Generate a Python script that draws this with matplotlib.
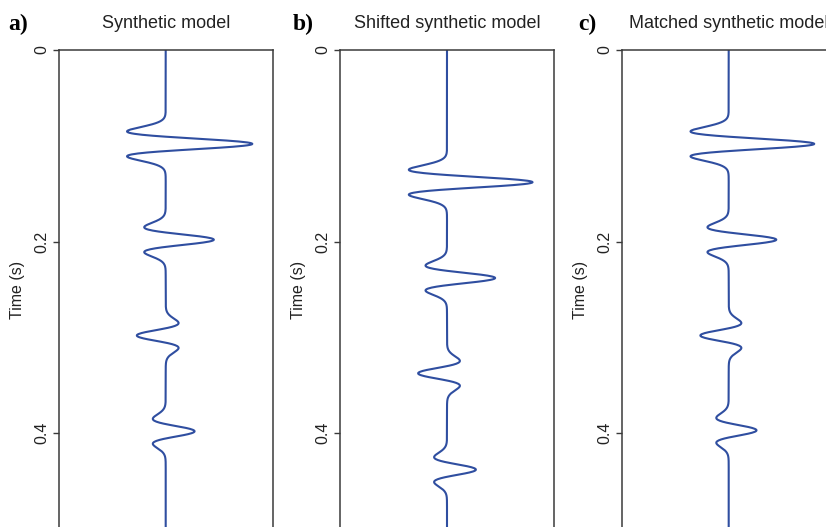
import numpy as np
import matplotlib
matplotlib.use("Agg")
import matplotlib.pyplot as plt

plt.rcParams["font.family"] = ["Liberation Sans", "DejaVu Sans"]

# reflector arrival times (s) and amplitudes for each trace
times_a = [0.098, 0.198, 0.298, 0.398]
amps_a = [0.81, 0.45, -0.27, 0.27]

times_b = [0.138, 0.238, 0.3375, 0.438]
amps_b = [0.80, 0.45, -0.27, 0.27]

times_c = [0.098, 0.198, 0.298, 0.397]
amps_c = [0.80, 0.445, -0.265, 0.26]

titles = ["Synthetic model", "Shifted synthetic model", "Matched synthetic model"]
letters = ["a)", "b)", "c)"]
yticks = [0, 0.2, 0.4]
ytick_labels = ["0", "0.2", "0.4"]

freq = 30.0  # Ricker peak frequency (Hz)
dt = 0.0005
t = np.arange(0, 0.55, dt)


def ricker_trace(times, amps):
    trace = np.zeros_like(t)
    for t0, a in zip(times, amps):
        arg = (np.pi * freq * (t - t0)) ** 2
        trace += a * (1 - 2 * arg) * np.exp(-arg)
    return trace


W, H = 826, 527
fig = plt.figure(figsize=(W / 100, H / 100), dpi=100)

lefts = [58.7, 340.0, 621.7]
letter_x = [8, 293, 578]
ax_w = 214.0
top_px, bot_px = 50.0, 529.0

traces = [(times_a, amps_a), (times_b, amps_b), (times_c, amps_c)]
line_color = "#2f4ea0"
spine_color = "#3a3a3a"

for i, (times, amps) in enumerate(traces):
    ax = fig.add_axes([lefts[i] / W, (H - bot_px) / H, ax_w / W, (bot_px - top_px) / H])
    ax.plot(ricker_trace(times, amps), t, color=line_color, lw=1.5)
    ax.set_xlim(-1, 1)
    ax.set_ylim(0.5, 0)
    ax.set_xticks([])
    ax.set_yticks(yticks)
    ax.set_yticklabels(ytick_labels, rotation=90, va="center", fontsize=11.5, color="#222222")
    ax.tick_params(axis="y", length=4, width=1, color=spine_color, pad=3)
    for s in ax.spines.values():
        s.set_color(spine_color)
        s.set_linewidth(1.1)
    ax.spines["bottom"].set_visible(False)
    ax.set_ylabel("Time (s)", fontsize=11.5, color="#222222")
    ax.yaxis.set_label_coords(-0.157, 0.5)
    ax.set_title(titles[i], fontsize=13, color="#222222", pad=16)
    fig.text(letter_x[i] / W, 1 - 30 / H, letters[i], fontsize=17, fontweight="bold",
             family="Liberation Serif", ha="left", va="baseline")

fig.savefig("out.png", dpi=100)
